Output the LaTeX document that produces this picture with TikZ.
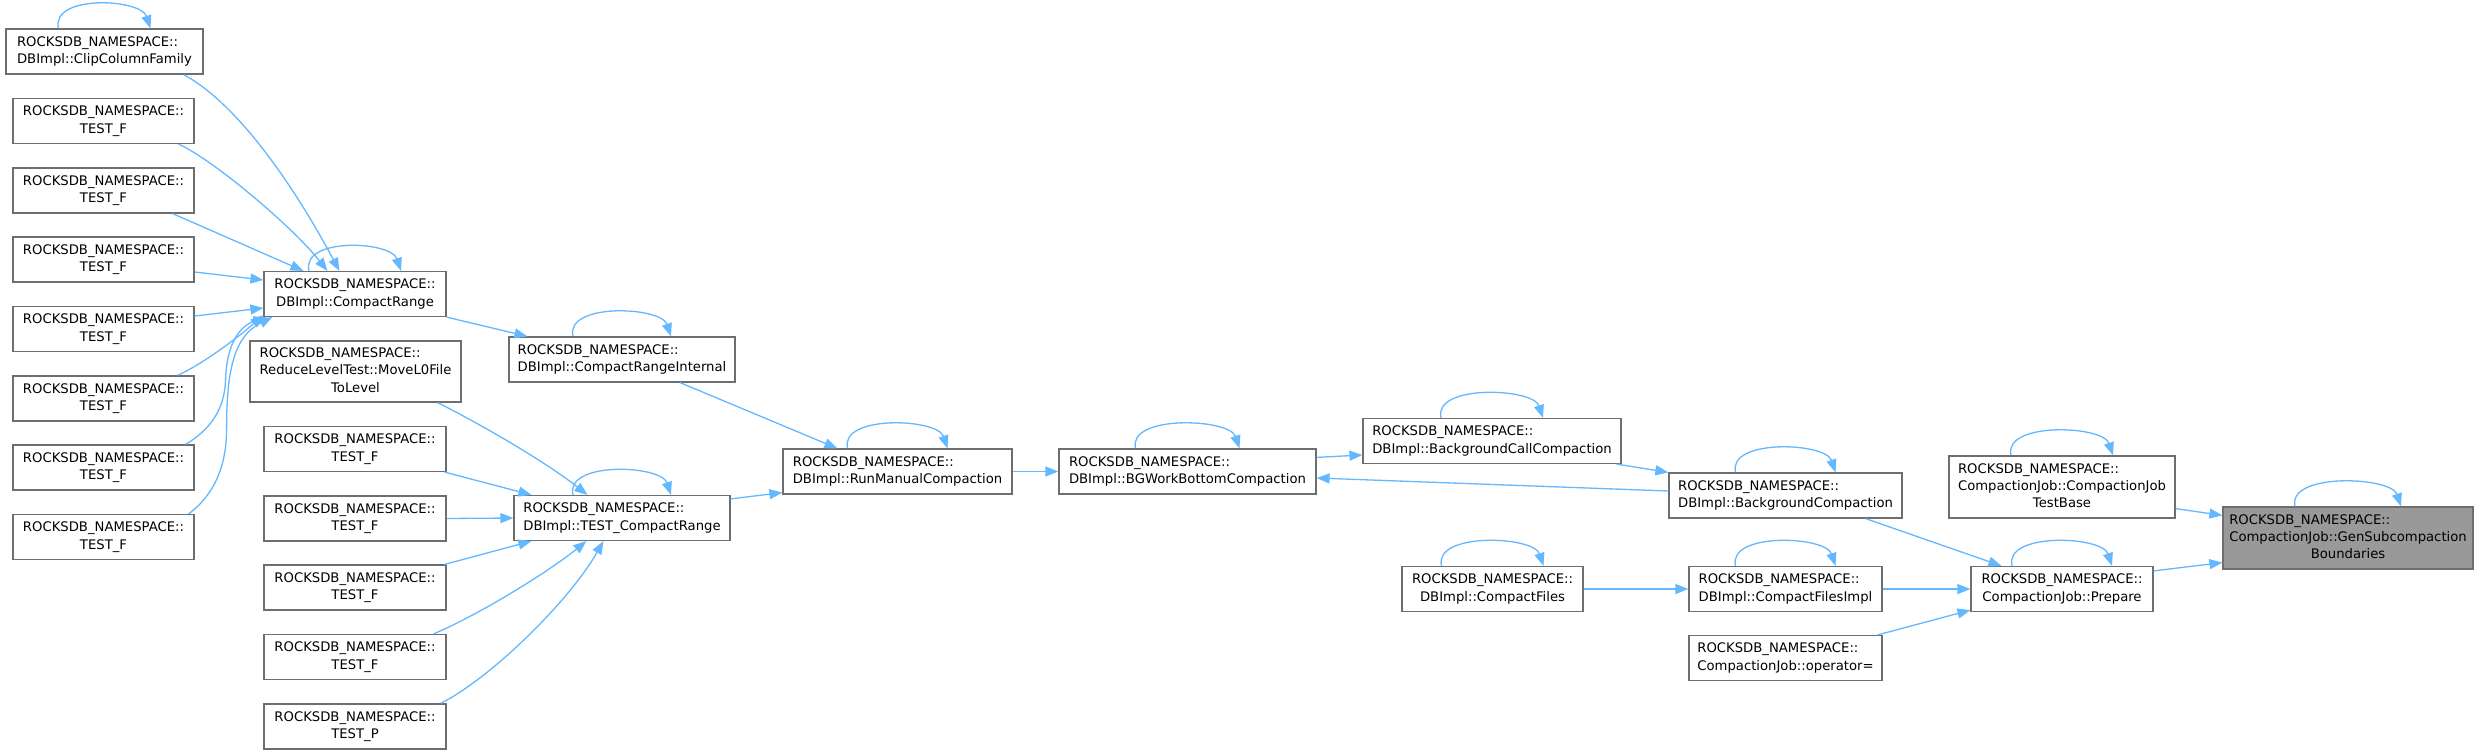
\documentclass[tikz,border=0pt]{standalone}
\usepackage{fontspec}
\setmainfont{DejaVu Sans}
\usetikzlibrary{arrows.meta,calc}
\definecolor{edgeblue}{HTML}{63B8FF}
\definecolor{boxgray}{HTML}{6E6E6E}
\definecolor{hlfill}{HTML}{999999}
\newcommand\ltwo[2]{\begin{tabular}{@{}l@{}}#1\\\multicolumn{1}{@{}c@{}}{#2}\end{tabular}}
\newcommand\lthree[3]{\begin{tabular}{@{}l@{}}#1\\#2\\\multicolumn{1}{@{}c@{}}{#3}\end{tabular}}
\newcommand\rns{ROCKSDB\_NAMESPACE::}
\newcommand\cgloop[2]{\draw[edge] ([xshift=-#2pt]#1.north) .. controls +(-8pt,34pt) and +(-10pt,30pt) .. ([xshift=#2pt]#1.north);}
\begin{document}
\begin{tikzpicture}[x=1pt,y=-1pt,
  box/.style={draw=boxgray, line width=1.2pt, fill=white, inner sep=0pt,
    minimum height=45pt, font=\fontsize{13.2}{17.3}\selectfont},
  hlbox/.style={box, fill=hlfill},
  edge/.style={draw=edgeblue, line width=1.3pt,
    -{Triangle[length=13pt,width=10pt]}, fill=none}]
\fill[white] (0,0) rectangle (2482,754);
\useasboundingbox (0,0) rectangle (2482,754);

% column 0
\node[box,minimum width=197pt] (clip) at (104.5,51.5) {\ltwo{\rns}{DBImpl::ClipColumnFamily}};
\node[box,minimum width=181pt] (tf1) at (103.5,121) {\ltwo{\rns}{TEST\_F}};
\node[box,minimum width=181pt] (tf2) at (103.5,190.5) {\ltwo{\rns}{TEST\_F}};
\node[box,minimum width=181pt] (tf3) at (103.5,259.5) {\ltwo{\rns}{TEST\_F}};
\node[box,minimum width=181pt] (tf4) at (103.5,329) {\ltwo{\rns}{TEST\_F}};
\node[box,minimum width=181pt] (tf5) at (103.5,398.5) {\ltwo{\rns}{TEST\_F}};
\node[box,minimum width=181pt] (tf6) at (103.5,467.5) {\ltwo{\rns}{TEST\_F}};
\node[box,minimum width=181pt] (tf7) at (103.5,537) {\ltwo{\rns}{TEST\_F}};

% column 1
\node[box,minimum width=182pt] (cr) at (355,294) {\ltwo{\rns}{DBImpl::CompactRange}};
\node[box,minimum width=211pt,minimum height=61pt] (mv) at (355.5,371.5) {\lthree{\rns}{ReduceLevelTest::MoveL0File}{ToLevel}};
\node[box,minimum width=182pt] (tg1) at (355,449) {\ltwo{\rns}{TEST\_F}};
\node[box,minimum width=182pt] (tg2) at (355,518.5) {\ltwo{\rns}{TEST\_F}};
\node[box,minimum width=182pt] (tg3) at (355,587.5) {\ltwo{\rns}{TEST\_F}};
\node[box,minimum width=182pt] (tg4) at (355,657) {\ltwo{\rns}{TEST\_F}};
\node[box,minimum width=182pt] (tp) at (355,726.5) {\ltwo{\rns}{TEST\_P}};

% column 2
\node[box,minimum width=226pt] (cri) at (622,359.5) {\ltwo{\rns}{DBImpl::CompactRangeInternal}};
\node[box,minimum width=216pt] (tcr) at (622,518) {\ltwo{\rns}{DBImpl::TEST\_CompactRange}};

% further columns
\node[box,minimum width=229pt] (rmc) at (897.5,471.5) {\ltwo{\rns}{DBImpl::RunManualCompaction}};
\node[box,minimum width=257pt] (bgw) at (1187.5,471.5) {\ltwo{\rns}{DBImpl::BGWorkBottomCompaction}};
\node[box,minimum width=258pt] (bcc) at (1492,441) {\ltwo{\rns}{DBImpl::BackgroundCallCompaction}};
\node[box,minimum width=181pt] (cf) at (1492.5,589) {\ltwo{\rns}{DBImpl::CompactFiles}};
\node[box,minimum width=233pt] (bc) at (1785.5,495.5) {\ltwo{\rns}{DBImpl::BackgroundCompaction}};
\node[box,minimum width=193pt] (cfi) at (1785.5,589) {\ltwo{\rns}{DBImpl::CompactFilesImpl}};
\node[box,minimum width=193pt] (op) at (1785.5,658) {\ltwo{\rns}{CompactionJob::operator=}};
\node[box,minimum width=226pt,minimum height=62pt] (tb) at (2062,487) {\lthree{\rns}{CompactionJob::CompactionJob}{TestBase}};
\node[box,minimum width=182pt] (prep) at (2062,589) {\ltwo{\rns}{CompactionJob::Prepare}};
\node[hlbox,minimum width=250pt,minimum height=62pt] (gen) at (2348,538) {\lthree{\rns}{CompactionJob::GenSubcompaction}{Boundaries}};

% edges column 0 -> CompactRange
\draw[edge] ($(clip.south east)+(-20,0)$) .. controls +(67,36) and +(-25,-47) .. ($(cr.north west)+(76,0)$);
\draw[edge] ($(tf1.south east)+(-16,0)$) .. controls +(37,17) and +(-33,-42) .. ($(cr.north west)+(64,0)$);
\draw[edge] ($(tf2.south east)+(-22,0)$) -- ($(cr.north west)+(40,0)$);
\draw[edge] ($(tf3.east)+(0,12.5)$) -- ($(cr.west)+(0,-14)$);
\draw[edge] ($(tf4.east)+(0,-13)$) -- ($(cr.west)+(0,14)$);
\draw[edge] ($(tf5.north east)+(-17,0)$) .. controls +(28,-13) and +(-24,21) .. ($(cr.south west)+(0,-2)$);
\draw[edge] ($(tf6.north east)+(-9,0)$) .. controls +(25,-15) and +(-1,30) .. ($(tf6.north east)+(31,-65)$)
  .. controls +(1,-35) and +(-27,9) .. ($(cr.south west)+(3,0)$);
\draw[edge] ($(tf7.north east)+(-6,0)$) .. controls +(27,-20) and +(0,35) .. ($(tf7.north east)+(32,-85)$)
  .. controls +(0,-60) and +(-38,19) .. ($(cr.south west)+(9,0)$);

% column 1 -> column 2
\draw[edge] (cr.south east) -- ($(cri.north west)+(19,0)$);
\draw[edge] ($(mv.south east)+(-24,0)$) .. controls +(40,20) and +(-43,-34) .. ($(tcr.north west)+(74,0)$);
\draw[edge] ($(tg1.south east)+(-2,0)$) -- ($(tcr.north west)+(18,0)$);
\draw[edge] (tg2.east) -- (tcr.west);
\draw[edge] ($(tg3.north east)+(-2,0)$) -- ($(tcr.south west)+(18,0)$);
\draw[edge] ($(tg4.north east)+(-13,0)$) .. controls +(47,-20) and +(-37,30) .. ($(tcr.south west)+(73,0)$);
\draw[edge] ($(tp.north east)+(-6,0)$) .. controls +(50,-25) and +(-34,60) .. ($(tcr.south west)+(90,0)$);

% rest
\draw[edge] ($(cri.south)+(58,0)$) -- ($(rmc.north west)+(55,0)$);
\draw[edge] ($(tcr.north east)+(0,4)$) -- ($(rmc.south west)+(0,-2)$);
\draw[edge] (rmc.east) -- (bgw.west);
\draw[edge] ($(bgw.north east)+(0,9)$) -- ($(bcc.west)+(0,14)$);
\draw[edge] ($(bcc.south east)+(-5,0)$) -- (bc.north west);
\draw[edge] ($(bc.west)+(0,-4.5)$) -- ($(bgw.east)+(0,6.5)$);
\draw[edge] ($(bc.south east)+(-37,0)$) -- ($(prep.north west)+(31,0)$);
\draw[edge] (cf.east) -- (cfi.west);
\draw[edge] (cfi.east) -- (prep.west);
\draw[edge] ($(op.north east)+(-5,0)$) -- ($(prep.south west)+(0,-2)$);
\draw[edge] ($(tb.south east)+(0,-10)$) -- ($(gen.north west)+(0,9)$);
\draw[edge] ($(prep.north east)+(0,5)$) -- ($(gen.south west)+(0,-7)$);

% self loops
\cgloop{clip}{46}
\cgloop{cr}{46}
\cgloop{cri}{49}
\cgloop{tcr}{49}
\cgloop{rmc}{50}
\cgloop{bgw}{52}
\cgloop{bcc}{51}
\cgloop{cf}{51}
\cgloop{bc}{50}
\cgloop{cfi}{50}
\cgloop{tb}{51}
\cgloop{prep}{50}
\cgloop{gen}{53}
\end{tikzpicture}
\end{document}
